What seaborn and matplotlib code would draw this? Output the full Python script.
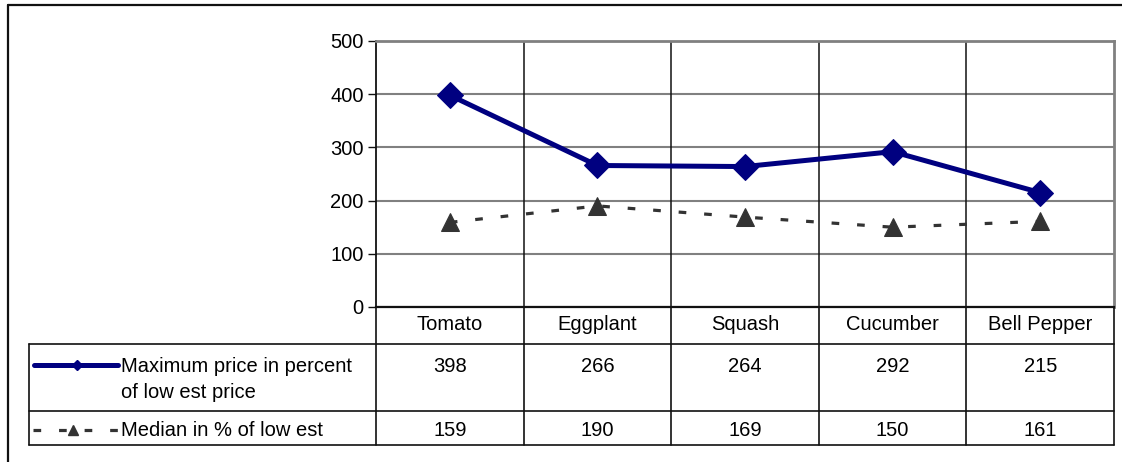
import matplotlib
matplotlib.use("Agg")
import matplotlib.pyplot as plt
import pandas as pd
import seaborn as sns
from matplotlib.lines import Line2D
from matplotlib.transforms import blended_transform_factory

# ---- data ----
categories = ["Tomato", "Eggplant", "Squash", "Cucumber", "Bell Pepper"]
max_pct = [398, 266, 264, 292, 215]
median_pct = [159, 190, 169, 150, 161]
max_label_lines = ["Maximum price in percent", "of low est price"]
median_label = "Median in % of low est"
y_ticks = [0, 100, 200, 300, 400, 500]

# ---- style ----
sns.set_style("white")
plt.rcParams["font.family"] = ["Liberation Sans", "DejaVu Sans"]
plt.rcParams["text.color"] = "black"
plt.rcParams["ytick.labelcolor"] = "black"
NAVY = "#000080"
GREY = "#333333"
GRID = "#808080"
INK = "#111111"
FS = 14.5

W, H = 1122, 462
fig = plt.figure(figsize=(W / 100, H / 100), dpi=100)
fig.patch.set_facecolor("white")


def fx(px):
    return px / W


def fy(py):
    return 1 - py / H


ax = fig.add_axes([fx(376), fy(307), (1114 - 376) / W, (307 - 41) / H])

df = pd.DataFrame({"category": categories, "max": max_pct, "median": median_pct})

sns.lineplot(data=df, x="category", y="max", ax=ax, sort=False, color=NAVY,
             lw=3.6, marker="D", markersize=13, markeredgecolor=NAVY, zorder=4)
sns.lineplot(data=df, x="category", y="median", ax=ax, sort=False, color=GREY,
             lw=2.3, linestyle=(0, (2.4, 5.6)), marker="^", markersize=12.5,
             markeredgecolor=GREY, zorder=3)

ax.set_xlim(-0.5, len(categories) - 0.5)
ax.set_ylim(0, 500)
ax.set_xlabel("")
ax.set_ylabel("")
ax.set_xticks([])
ax.set_yticks(y_ticks)
ax.set_yticklabels([str(v) for v in y_ticks])
ax.set_axisbelow(True)
ax.yaxis.grid(True, color=GRID, lw=1.5)
ax.xaxis.grid(False)
for i in range(len(categories) - 1):
    ax.axvline(i + 0.5, color=INK, lw=1.1, zorder=1)
ax.tick_params(axis="y", direction="out", length=6, width=1, color=INK,
               labelsize=FS, pad=3, left=True, labelcolor="black")
ax.spines["left"].set_color(INK)
ax.spines["left"].set_linewidth(1.3)
ax.spines["bottom"].set_color(INK)
ax.spines["bottom"].set_linewidth(1.6)
for side in ("top", "right"):
    ax.spines[side].set_color(GRID)
    ax.spines[side].set_linewidth(2)

# ---- data table below the plot ----
tr = blended_transform_factory(ax.transData, fig.transFigure)
for b in [i - 0.5 for i in range(len(categories) + 1)]:
    fig.add_artist(Line2D([b, b], [fy(307), fy(445)], transform=tr, color=INK, lw=1.2))
for yy in (344, 411, 445):
    fig.add_artist(Line2D([fx(29), fx(1114)], [fy(yy), fy(yy)],
                          transform=fig.transFigure, color=INK, lw=1.2))
fig.add_artist(Line2D([fx(29), fx(29)], [fy(344), fy(445)],
                      transform=fig.transFigure, color=INK, lw=1.2))

for i, cat in enumerate(categories):
    fig.text(i, fy(325), cat, transform=tr, ha="center", va="center", fontsize=FS)
    fig.text(i, fy(366), str(max_pct[i]), transform=tr, ha="center", va="center", fontsize=FS)
    fig.text(i, fy(430), str(median_pct[i]), transform=tr, ha="center", va="center", fontsize=FS)

# legend keys inside the table
fig.add_artist(Line2D([fx(34), fx(118)], [fy(365), fy(365)], transform=fig.transFigure,
                      color=NAVY, lw=3.6))
fig.add_artist(Line2D([fx(77)], [fy(365)], transform=fig.transFigure, color=NAVY,
                      marker="D", markersize=5, lw=0))
fig.add_artist(Line2D([fx(33), fx(118)], [fy(430), fy(430)], transform=fig.transFigure,
                      color=GREY, lw=2.3, linestyle=(0, (2.4, 5.6))))
fig.add_artist(Line2D([fx(73)], [fy(430)], transform=fig.transFigure, color=GREY,
                      marker="^", markersize=7, lw=0))

fig.text(fx(121), fy(366), max_label_lines[0], ha="left", va="center", fontsize=FS)
fig.text(fx(121), fy(392), max_label_lines[1], ha="left", va="center", fontsize=FS)
fig.text(fx(121), fy(430), median_label, ha="left", va="center", fontsize=FS)

# outer chart frame
fig.add_artist(Line2D([fx(8), 1], [fy(4.5), fy(4.5)], transform=fig.transFigure,
                      color=INK, lw=1.6))
fig.add_artist(Line2D([fx(8), fx(8)], [fy(4.5), 0], transform=fig.transFigure,
                      color=INK, lw=1.6))

fig.savefig("out.png", dpi=100)
